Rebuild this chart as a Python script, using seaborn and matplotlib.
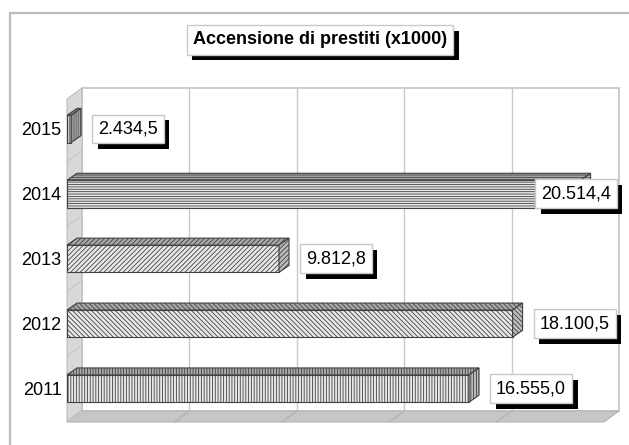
import numpy as np
import pandas as pd
import matplotlib
matplotlib.use("Agg")
import matplotlib.pyplot as plt
import matplotlib.patheffects as pe
from matplotlib.patches import Polygon, Rectangle
import seaborn as sns

# data
years = ['2015', '2014', '2013', '2012', '2011']
values = [2434.5, 20514.4, 9812.8, 18100.5, 16555.0]
hatches = ['|' * 8, '-' * 7, '/' * 7, '\\' * 7, '|' * 6]
title = 'Accensione di prestiti (x1000)'

# axis range (value axis has no labels, 5 grid intervals)
xlo, xhi = 2290, 21345
ylim = (4.515, -0.462)

sns.set_style('white')
plt.rcParams['font.family'] = ['Liberation Sans', 'DejaVu Sans']
plt.rcParams['hatch.linewidth'] = 0.6

W, H = 629, 445
fig = plt.figure(figsize=(W / 100, H / 100), dpi=100)
# front plane of the 3d box (pixels 67..604, 99..422)
ax = fig.add_axes([67 / W, (H - 422) / H, 537 / W, 323 / H])
ax.set_facecolor('none')

# outer frame
fig.patches.append(Rectangle((10 / W, -0.1), 1.2, (H - 13) / H + 0.1,
                             transform=fig.transFigure, fill=False,
                             edgecolor='#bdbdbd', linewidth=1.6, zorder=0))

df = pd.DataFrame({'year': years, 'value': values})
sns.barplot(data=df, x='value', y='year', order=years, orient='h',
            color='#e8e8e8', saturation=1, width=0.42,
            edgecolor='#404040', linewidth=0.8, ax=ax, zorder=3)
bars = list(ax.patches)

ax.set_xlim(xlo, xhi)
ax.set_ylim(*ylim)

# pixel -> data units
px = (xhi - xlo) / 537
py = (ylim[0] - ylim[1]) / 323
wdx, wdy = 15 * px, -11 * py   # wall depth
bdx, bdy = 10 * px, -7 * py    # bar depth
ybot, ytop = ylim

# floor and left wall
ax.add_patch(Polygon([(xlo, ybot), (xhi, ybot), (xhi + wdx, ybot + wdy), (xlo + wdx, ybot + wdy)],
                     closed=True, facecolor='#c6c6c6', edgecolor='#b5b5b5', lw=0.8,
                     clip_on=False, zorder=1))
ax.add_patch(Polygon([(xlo, ybot), (xlo, ytop), (xlo + wdx, ytop + wdy), (xlo + wdx, ybot + wdy)],
                     closed=True, facecolor='#d8d8d8', edgecolor='#bdbdbd', lw=0.8,
                     clip_on=False, zorder=1))
# back wall
ax.add_patch(Polygon([(xlo + wdx, ybot + wdy), (xlo + wdx, ytop + wdy),
                      (xhi + wdx, ytop + wdy), (xhi + wdx, ybot + wdy)],
                     closed=True, facecolor='white', edgecolor='#c4c4c4', lw=1.2,
                     clip_on=False, zorder=0.5))
# grid lines on back wall and floor
grid = np.linspace(xlo, xhi, 6)[1:-1]
for g in grid:
    ax.plot([g + wdx, g + wdx], [ybot + wdy, ytop + wdy], color='#c8c8c8', lw=1,
            clip_on=False, zorder=0.8)
    ax.plot([g, g + wdx], [ybot, ybot + wdy], color='#b0b0b0', lw=0.8,
            clip_on=False, zorder=1.1)
# category separators on the left wall
for i in range(len(years)):
    yb = i + 0.5
    ax.plot([xlo, xlo + wdx], [yb, yb + wdy], color='#c4c4c4', lw=0.8,
            clip_on=False, zorder=1.1)

# bars: hatch + 3d faces
for bar, h in zip(bars, hatches):
    bar.set_hatch(h)
    x0 = xlo
    x1 = bar.get_x() + bar.get_width()
    y0 = bar.get_y()
    y1 = y0 + bar.get_height()
    yt = min(y0, y1)
    yb2 = max(y0, y1)
    bar.set_x(xlo)
    bar.set_width(x1 - xlo)
    top = Polygon([(x0, yt), (x1, yt), (x1 + bdx, yt + bdy), (x0 + bdx, yt + bdy)],
                  closed=True, facecolor='#a8a8a8', edgecolor='#404040', lw=0.8,
                  hatch=h, clip_on=False, zorder=3)
    side = Polygon([(x1, yt), (x1, yb2), (x1 + bdx, yb2 + bdy), (x1 + bdx, yt + bdy)],
                   closed=True, facecolor='#bcbcbc', edgecolor='#404040', lw=0.8,
                   hatch=h, clip_on=False, zorder=3)
    ax.add_patch(top)
    ax.add_patch(side)

fig.canvas.draw()

# value labels with shadow boxes
def fmt(v):
    return f"{v:,.1f}".replace(',', 'X').replace('.', ',').replace('X', '.')

max_left = ax.transData.transform((xlo, 0))[0] + 474  # right limit for label
for i, v in enumerate(values):
    xpix, ypix = ax.transData.transform((v, i))
    lx = min(xpix + 27, max_left)
    t = fig.text(lx / 100 / fig.get_figwidth(), ypix / 100 / fig.get_figheight(), fmt(v),
                 ha='left', va='center', fontsize=13, color='black', zorder=10,
                 bbox=dict(boxstyle='square,pad=0.33', facecolor='white',
                           edgecolor='#c8c8c8', linewidth=1))
    t.get_bbox_patch().set_path_effects([
        pe.withSimplePatchShadow(offset=(4, -4), shadow_rgbFace='black', alpha=1)])

# title box
tt = fig.text(320 / W, 1 - 40 / H, title, ha='center', va='center',
              fontsize=13, fontweight='bold', color='black', zorder=10,
              bbox=dict(boxstyle='square,pad=0.35', facecolor='white',
                        edgecolor='#c8c8c8', linewidth=1))
tt.get_bbox_patch().set_path_effects([
    pe.withSimplePatchShadow(offset=(4, -4), shadow_rgbFace='black', alpha=1)])

ax.set_xlabel('')
ax.set_ylabel('')
ax.set_xticks([])
ax.tick_params(axis='y', length=0, pad=4, labelsize=13, labelcolor='black')
for s in ax.spines.values():
    s.set_visible(False)

fig.savefig('out.png', dpi=100, facecolor='white')
